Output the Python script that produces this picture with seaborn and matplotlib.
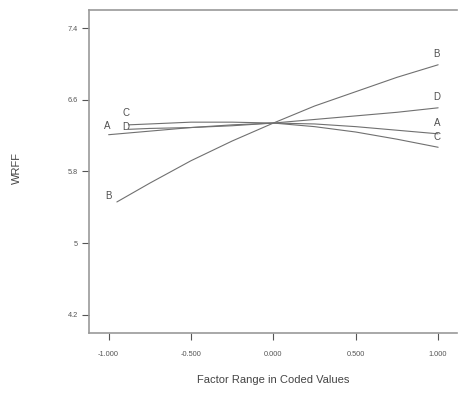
import matplotlib
matplotlib.use('Agg')
import matplotlib.pyplot as plt
import numpy as np
import pandas as pd
import seaborn as sns

# perturbation curves (coded factor value -> WRFF)
factors = ["A", "B", "C", "D"]
x_a = [-1.0, -0.75, -0.5, -0.25, 0.0, 0.25, 0.5, 0.75, 1.0]
y_a = [6.21, 6.25, 6.29, 6.32, 6.34, 6.33, 6.30, 6.26, 6.22]
x_b = [-0.95, -0.75, -0.5, -0.25, 0.0, 0.25, 0.5, 0.75, 1.0]
y_b = [5.46, 5.67, 5.92, 6.14, 6.34, 6.53, 6.69, 6.85, 6.99]
x_c = [-0.88, -0.75, -0.5, -0.25, 0.0, 0.25, 0.5, 0.75, 1.0]
y_c = [6.32, 6.33, 6.35, 6.35, 6.34, 6.30, 6.24, 6.16, 6.07]
x_d = [-0.88, -0.75, -0.5, -0.25, 0.0, 0.25, 0.5, 0.75, 1.0]
y_d = [6.27, 6.28, 6.29, 6.31, 6.34, 6.38, 6.42, 6.46, 6.51]

x_ticks = [-1.0, -0.5, 0.0, 0.5, 1.0]
x_tick_labels = ["-1.000", "-0.500", "0.000", "0.500", "1.000"]
y_ticks = [4.2, 5.0, 5.8, 6.6, 7.4]
y_tick_labels = ["4.2", "5", "5.8", "6.6", "7.4"]

xs = {"A": x_a, "B": x_b, "C": x_c, "D": x_d}
ys = {"A": y_a, "B": y_b, "C": y_c, "D": y_d}
df = pd.concat([pd.DataFrame({"factor": f, "x": xs[f], "y": ys[f]}) for f in factors])

sns.set_theme(style="white")
plt.rcParams['font.family'] = ['Liberation Sans', 'DejaVu Sans']

fig = plt.figure(figsize=(4.58, 4.03), dpi=100)
ax = fig.add_axes([0.194, 0.174, 0.804, 0.801])

sns.lineplot(data=df, x="x", y="y", units="factor", estimator=None,
             color="#707070", linewidth=0.8, ax=ax, sort=False)

# letter labels at both ends of each curve (left ones stack up where they crowd)
left_offsets = {"A": (-1, 3), "B": (-6, 1), "C": (-2, 5), "D": (-2, -2)}
for f in factors:
    ax.annotate(f, (xs[f][0], ys[f][0]), xytext=left_offsets[f], textcoords="offset points",
                ha="center", va="bottom", fontsize=7, color="#505050")
    ax.annotate(f, (xs[f][-1], ys[f][-1]), xytext=(-1, 4), textcoords="offset points",
                ha="center", va="bottom", fontsize=7, color="#505050")

ax.set_xlim(-1.12, 1.115)
ax.set_ylim(4.0, 7.6)
ax.set_xticks(x_ticks)
ax.set_xticklabels(x_tick_labels)
ax.set_yticks(y_ticks)
ax.set_yticklabels(y_tick_labels)
ax.tick_params(axis="both", which="major", labelsize=5.3, colors="#555555",
               direction="out", length=5, width=0.8, bottom=True, left=True)
ax.tick_params(axis="x", pad=8)
ax.tick_params(axis="y", pad=3)

for side in ["left", "bottom", "top"]:
    ax.spines[side].set_color("#9a9a9a")
    ax.spines[side].set_linewidth(1.2)
ax.spines["right"].set_visible(False)

ax.set_xlabel("Factor Range in Coded Values", fontsize=8, color="#444444", va="center")
ax.set_ylabel("WRFF", fontsize=8, color="#444444", va="center", ha="center")
# place axis titles where the reference has them (figure pixels -> axes coords)
ax.xaxis.set_label_coords((273 - 89) / 368.0, (333 - 380) / 323.0)
ax.yaxis.set_label_coords((17 - 89) / 368.0, (333 - 168) / 323.0)

fig.savefig("out.png", dpi=100)
